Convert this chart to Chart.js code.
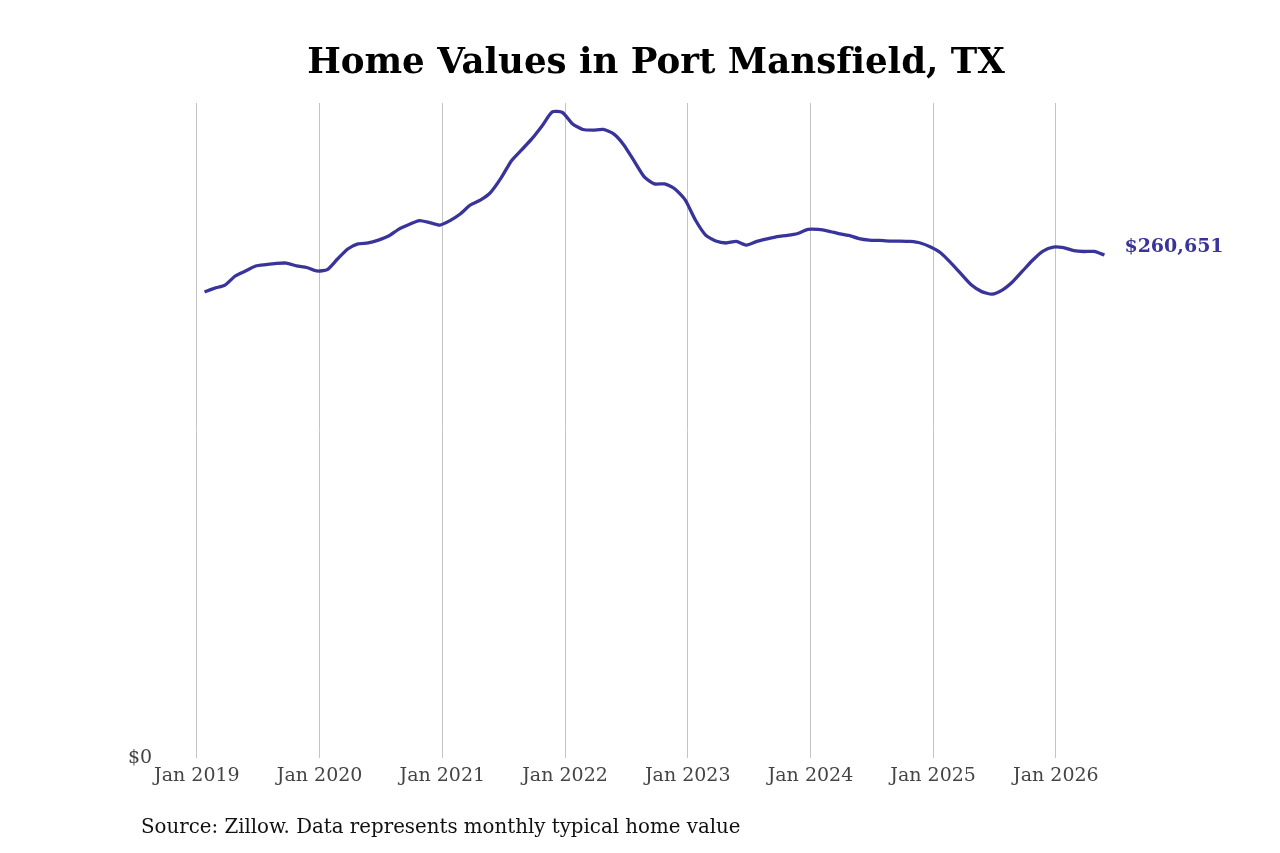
<!DOCTYPE html>
<html>
<head>
<meta charset="utf-8">
<script src="https://cdn.jsdelivr.net/npm/chart.js@4.4.1/dist/chart.umd.min.js"></script>
<style>html,body{margin:0;padding:0;background:#fff;}canvas{display:block;}</style>
</head>
<body>
<canvas id="c" width="1280" height="853"></canvas>
<script>
const chartTitle = "Home Values in Port Mansfield, TX";
const sourceText = "Source: Zillow. Data represents monthly typical home value";
const tickLabels = ["Jan 2019","Jan 2020","Jan 2021","Jan 2022","Jan 2023","Jan 2024","Jan 2025","Jan 2026"];
const tickMonths = [0,12,24,36,48,60,72,84];
// Monthly typical home value, Jan 2019 .. May 2026
const values = [
  241500,243500,245100,249800,252400,255000,255700,256300,256500,255000,254200,252400,
  253100,258600,263800,266400,266900,268400,270500,274100,276500,278500,277500,276200,
  278500,281900,286600,289200,293300,300600,309400,315100,320800,327500,334800,334500,
  328500,325700,325400,325700,323400,317700,309400,301100,297500,297500,294900,289200,
  278800,271000,267900,266900,267700,265800,267700,269000,270200,270800,271800,273900,
  273900,273100,271800,270800,269200,268400,268200,267900,267900,267700,266900,264800,
  261700,256500,250800,245100,241700,240400,242500,246700,252400,258100,262700,264800,
  264500,263000,262500,262500,260651
];
const monthOffset = 0.75;
const lastLabel = "$260,651";
const lineColor = "#39349a";
const serif = "'DejaVu Serif', 'Liberation Serif', serif";

const noLigaturePlugin = {
  id: 'noLigatures',
  beforeDraw(chart) {
    try { chart.ctx.textRendering = 'optimizeSpeed'; } catch (e) {}
  }
};

const endLabelPlugin = {
  id: 'endLabel',
  afterDatasetsDraw(chart) {
    const meta = chart.getDatasetMeta(0);
    const pt = meta.data[meta.data.length - 1];
    const ctx = chart.ctx;
    ctx.save();
    ctx.font = "bold 19px " + serif;
    ctx.fillStyle = lineColor;
    ctx.textAlign = 'left';
    ctx.textBaseline = 'middle';
    ctx.fillText(lastLabel, pt.x + 20, pt.y - 8);
    ctx.restore();
  }
};

new Chart(document.getElementById('c'), {
  type: 'line',
  data: {
    datasets: [{
      data: values.map((v, i) => ({x: i + monthOffset, y: v})),
      borderColor: lineColor,
      borderWidth: 3.3,
      pointRadius: 0,
      tension: 0.2,
      fill: false
    }]
  },
  options: {
    responsive: false,
    animation: false,
    devicePixelRatio: 1,
    layout: {padding: {left: 141, right: 109, top: 0, bottom: 13}},
    scales: {
      x: {
        type: 'linear',
        min: -4,
        max: 95.26,
        afterBuildTicks: s => { s.ticks = tickMonths.map(v => ({value: v})); },
        afterFit: s => { s.height = 40; },
        ticks: {
          callback: v => tickLabels[tickMonths.indexOf(v)],
          font: {family: serif, size: 19},
          color: '#444',
          padding: 6,
          maxRotation: 0,
          autoSkip: false
        },
        grid: {color: '#c4c4c4', lineWidth: 1, drawTicks: false},
        border: {display: false}
      },
      y: {
        min: 0,
        max: 339400,
        afterBuildTicks: s => { s.ticks = [{value: 0}]; },
        afterFit: s => { s.width = 15; },
        ticks: {
          callback: v => '$' + v,
          font: {family: serif, size: 19},
          color: '#444',
          mirror: true,
          padding: -28
        },
        grid: {display: false},
        border: {display: false}
      }
    },
    plugins: {
      legend: {display: false},
      tooltip: {enabled: false},
      title: {
        display: true,
        text: chartTitle,
        color: '#000',
        font: {family: serif, size: 35.6, weight: 'bold'},
        padding: {top: 42.4, bottom: 17.9}
      },
      subtitle: {
        display: true,
        text: sourceText,
        position: 'bottom',
        align: 'start',
        color: '#111',
        font: {family: serif, size: 19.8},
        padding: {top: 18, bottom: 0}
      }
    }
  },
  plugins: [noLigaturePlugin, endLabelPlugin]
});
</script>
</body>
</html>
